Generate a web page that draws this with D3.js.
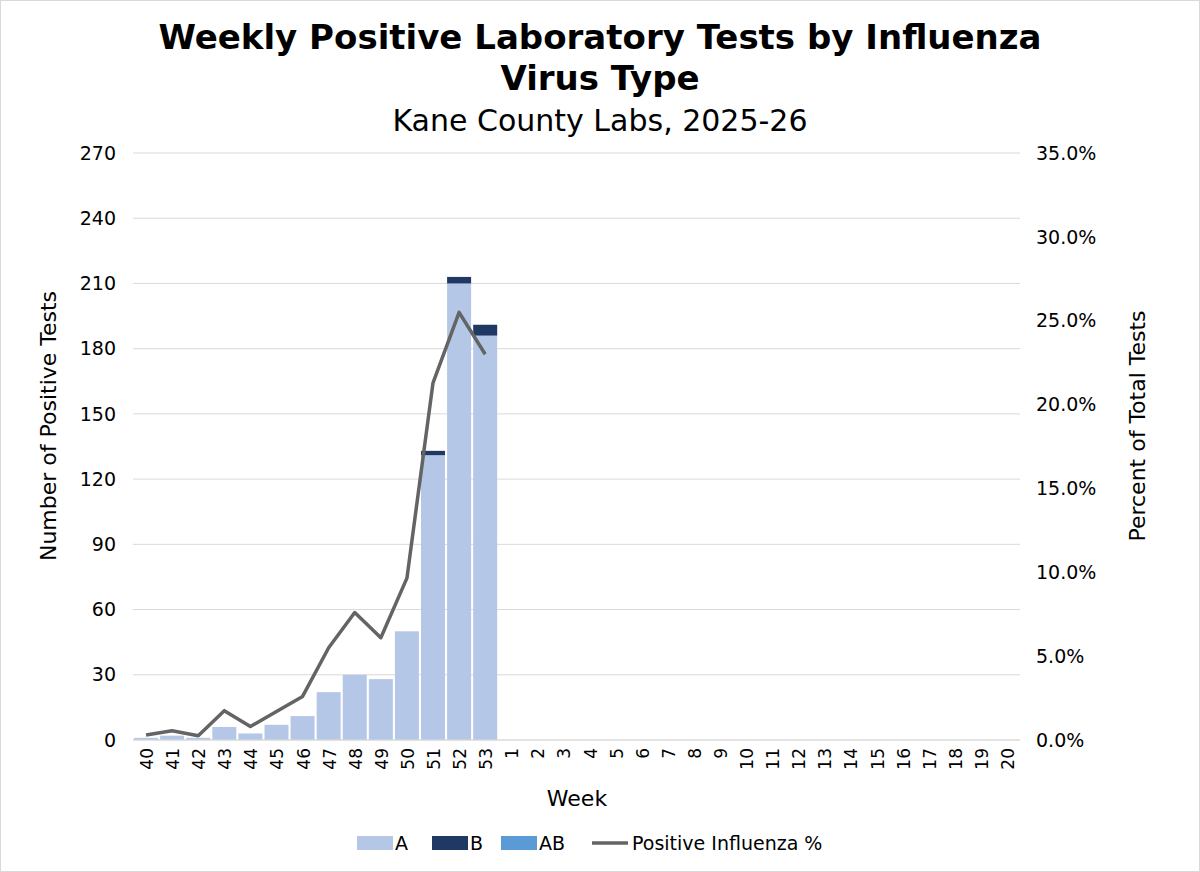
<!DOCTYPE html>
<html><head><meta charset="utf-8">
<script src="https://cdn.jsdelivr.net/npm/d3@7"></script>
<style>
body{margin:0;background:#fff;font-family:"DejaVu Sans",Verdana,sans-serif;}
svg{display:block}
</style></head>
<body><div id="chart"></div>
<script>
// Weeks of the season
const weeks = ["40","41","42","43","44","45","46","47","48","49","50","51","52","53",
  "1","2","3","4","5","6","7","8","9","10","11","12","13","14","15","16","17","18","19","20"];
const fluA  = [1,2,1,6,3,7,11,22,30,28,50,131,210,186];
const fluB  = [0,0,0,0,0,0,0,0,0,0,0,2,3,5];
const fluAB = [0,0,0,0,0,0,0,0,0,0,0,0,0,0];
const posPct = [0.3,0.55,0.25,1.75,0.8,1.7,2.6,5.5,7.6,6.1,9.65,21.3,25.5,23.0];
const leftTicks = [0,30,60,90,120,150,180,210,240,270];
const rightTicks = [0,5,10,15,20,25,30,35];

const W = 1200, H = 872;
const m = {left:133, right:1020, top:153, bottom:740};
const svg = d3.select('#chart').append('svg').attr('width', W).attr('height', H);
svg.append('rect').attr('x',0.5).attr('y',0.5).attr('width',W-1).attr('height',H-1)
  .attr('fill','#fff').attr('stroke','#d9d9d9');

const x = d3.scaleBand().domain(weeks).range([m.left, m.right]).paddingInner(0.08).paddingOuter(0.04);
const y = d3.scaleLinear().domain([0,270]).range([m.bottom, m.top]);
const y2 = d3.scaleLinear().domain([0,35]).range([m.bottom, m.top]);

// gridlines
svg.append('g').selectAll('line').data(leftTicks).join('line')
  .attr('x1', m.left).attr('x2', m.right)
  .attr('y1', d => y(d)).attr('y2', d => y(d))
  .attr('stroke', '#d9d9d9').attr('stroke-width', 1);

// stacked bars
const rows = fluA.map((a,i) => ({week: weeks[i], A: a, B: fluB[i], AB: fluAB[i]}));
const stack = d3.stack().keys(['A','B','AB'])(rows);
const colors = {A:'#b4c7e7', B:'#203864', AB:'#5b9bd5'};
svg.append('g').selectAll('g').data(stack).join('g')
  .attr('fill', s => colors[s.key])
  .selectAll('rect').data(s => s).join('rect')
  .attr('x', d => x(d.data.week)).attr('width', x.bandwidth())
  .attr('y', d => y(d[1])).attr('height', d => y(d[0]) - y(d[1]));

// positive % line
const line = d3.line().x((d,i) => x(weeks[i]) + x.bandwidth()/2).y(d => y2(d));
svg.append('path').datum(posPct).attr('d', line)
  .attr('fill','none').attr('stroke','#646464').attr('stroke-width',3.5).attr('stroke-linejoin','round');

// baseline
svg.append('line').attr('x1', m.left).attr('x2', m.right).attr('y1', m.bottom).attr('y2', m.bottom)
  .attr('stroke', '#d9d9d9');

const tf = {size: '19px', fill: '#000'};
svg.append('g').selectAll('text').data(leftTicks).join('text')
  .attr('x', 116).attr('y', d => y(d)).attr('dy','0.35em').attr('text-anchor','end')
  .attr('font-size', tf.size).text(d => d);
svg.append('g').selectAll('text').data(rightTicks).join('text')
  .attr('x', 1036).attr('y', d => y2(d)).attr('dy','0.35em')
  .attr('font-size', tf.size).text(d => d.toFixed(1) + '%');
svg.append('g').selectAll('text').data(weeks).join('text')
  .attr('transform', d => `translate(${x(d) + x.bandwidth()/2 + 7},${m.bottom + 8}) rotate(-90)`)
  .attr('text-anchor','end').attr('font-size','17px').text(d => d);

// titles
svg.append('text').attr('x', 600).attr('y', 49).attr('text-anchor','middle')
  .attr('font-size','34px').attr('font-weight','bold').text('Weekly Positive Laboratory Tests by Influenza');
svg.append('text').attr('x', 600).attr('y', 90).attr('text-anchor','middle')
  .attr('font-size','34px').attr('font-weight','bold').text('Virus Type');
svg.append('text').attr('x', 600).attr('y', 131).attr('text-anchor','middle')
  .attr('font-size','30px').text('Kane County Labs, 2025-26');

svg.append('text').attr('x', 577).attr('y', 806).attr('text-anchor','middle')
  .attr('font-size','22px').text('Week');
svg.append('text').attr('transform','translate(56,426) rotate(-90)').attr('text-anchor','middle')
  .attr('font-size','22px').text('Number of Positive Tests');
svg.append('text').attr('transform','translate(1145,426) rotate(-90)').attr('text-anchor','middle')
  .attr('font-size','22px').text('Percent of Total Tests');

// legend
const legend = [
  {label:'A', type:'rect', color: colors.A, x: 357},
  {label:'B', type:'rect', color: colors.B, x: 432},
  {label:'AB', type:'rect', color: colors.AB, x: 501},
  {label:'Positive Influenza %', type:'line', color:'#646464', x: 592}
];
const lg = svg.append('g').selectAll('g').data(legend).join('g')
  .attr('transform', d => `translate(${d.x},843)`);
lg.filter(d => d.type === 'rect').append('rect')
  .attr('x',0).attr('y',-7).attr('width',36).attr('height',14).attr('fill', d => d.color);
lg.filter(d => d.type === 'line').append('line')
  .attr('x1',0).attr('x2',36).attr('y1',0).attr('y2',0).attr('stroke', d => d.color).attr('stroke-width',3.5);
lg.append('text').attr('x', d => d.type === 'line' ? 40 : 38).attr('dy','0.35em')
  .attr('font-size','19px').text(d => d.label);
</script></body></html>
